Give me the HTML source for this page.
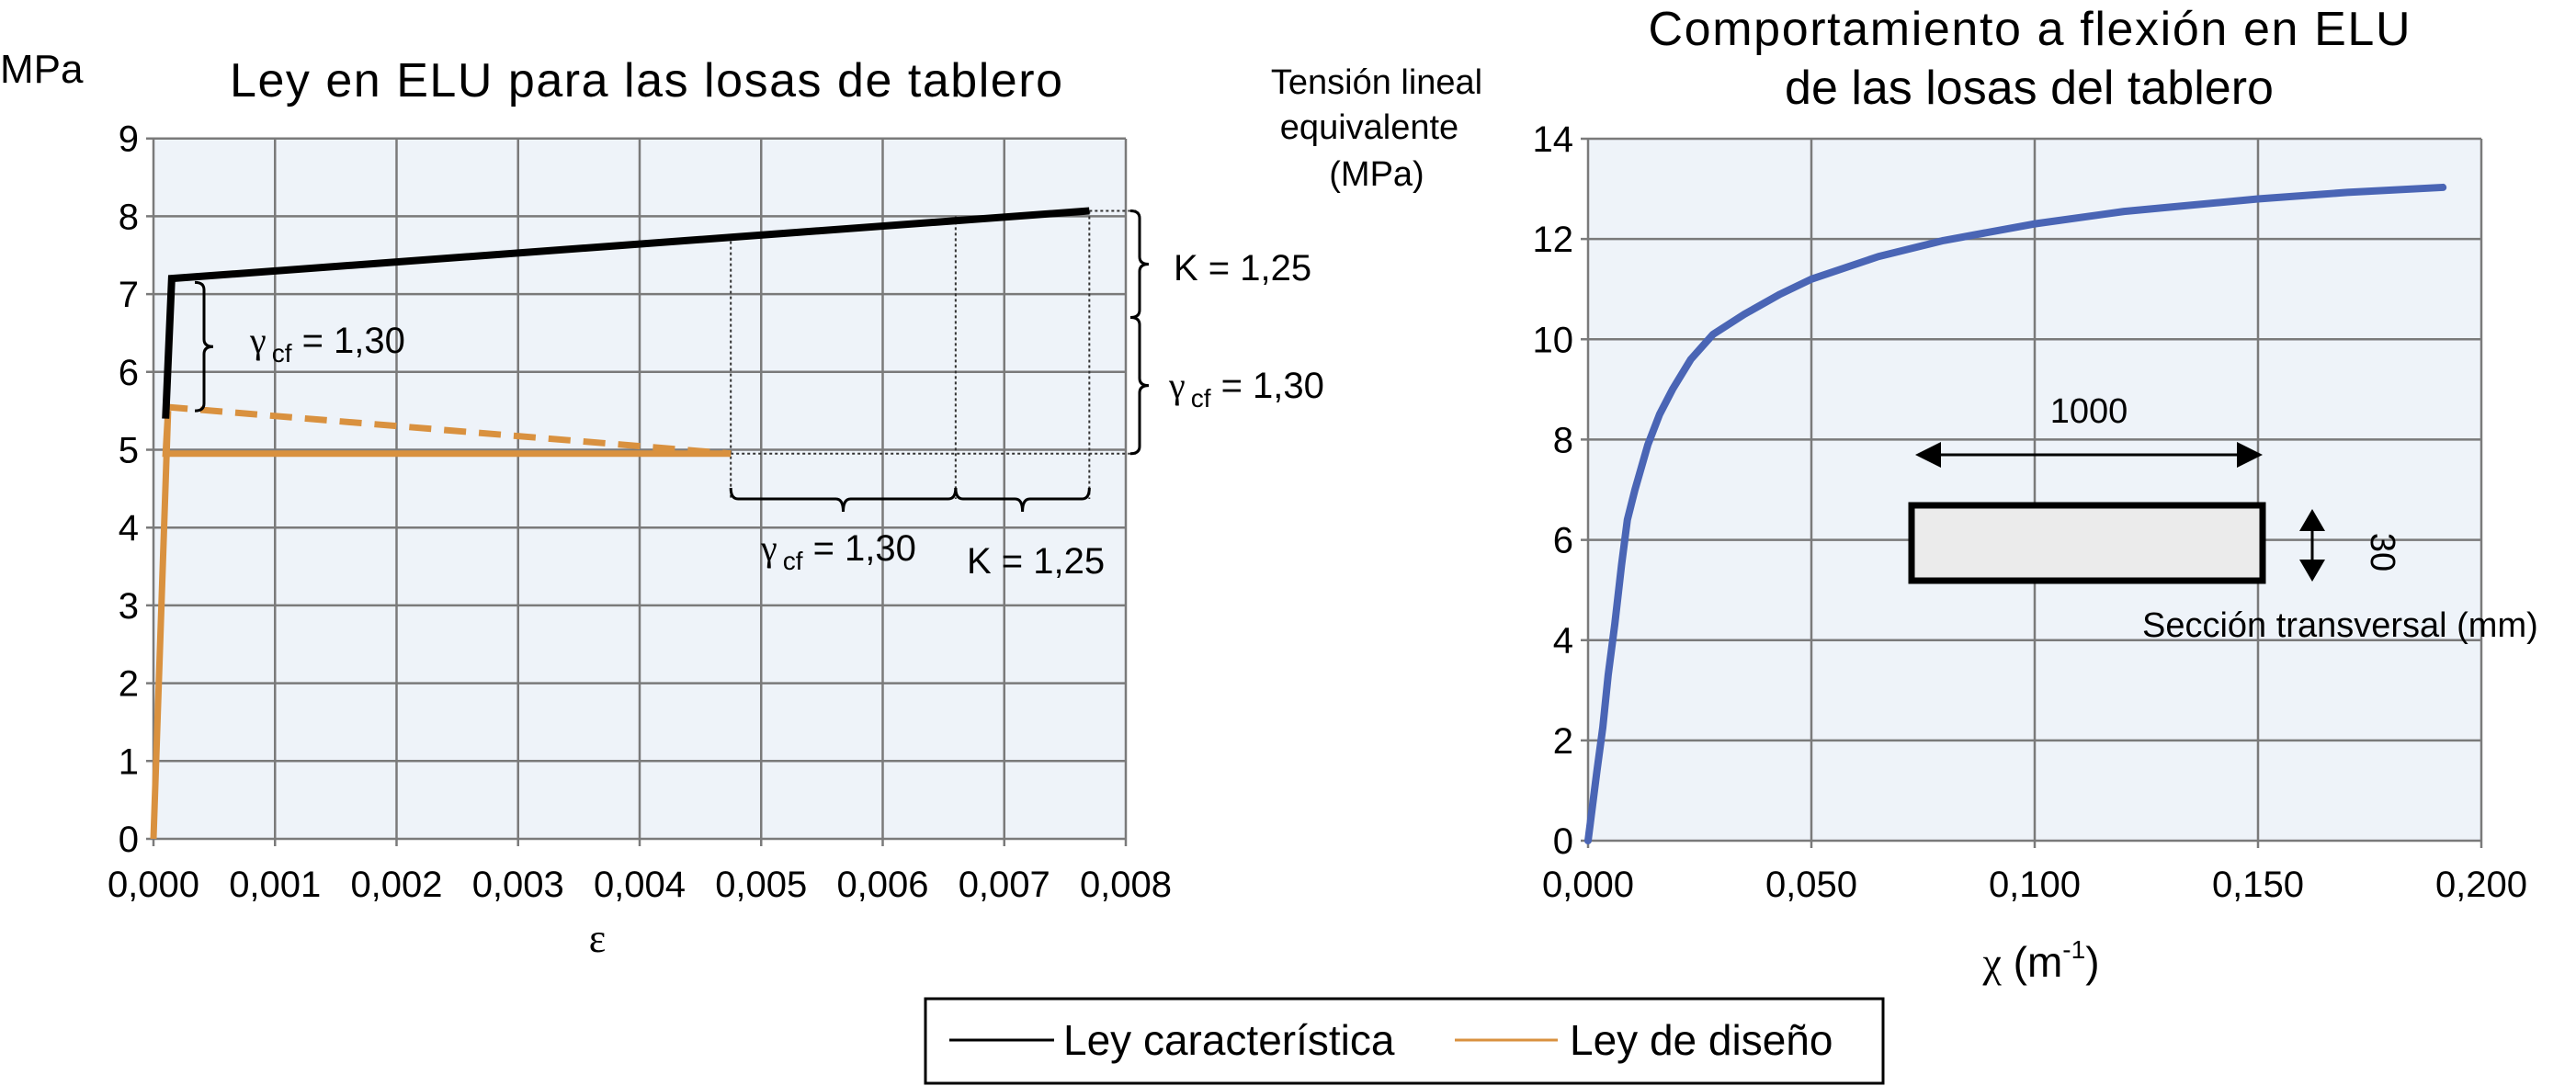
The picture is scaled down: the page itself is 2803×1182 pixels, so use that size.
<!DOCTYPE html>
<html><head><meta charset="utf-8"><style>
html,body{margin:0;padding:0;background:#fff;}
svg{display:block;font-family:"Liberation Sans",sans-serif;}
</style></head><body>
<svg id="s" width="2803" height="1182" viewBox="0 0 2803 1182">
<text x="0" y="90" font-size="44">MPa</text>
<text x="703" y="105" font-size="52" text-anchor="middle" textLength="906">Ley en ELU para las losas de tablero</text>
<text x="650" y="1036" font-size="44" font-family="Liberation Serif" text-anchor="middle">ε</text>
<text x="2208" y="49" font-size="52" text-anchor="middle" textLength="829">Comportamiento a flexión en ELU</text>
<text x="2208" y="113" font-size="52" text-anchor="middle">de las losas del tablero</text>
<g font-size="38" text-anchor="middle">
<text x="1498" y="102">Tensión lineal</text><text x="1490" y="151">equivalente</text><text x="1498" y="202">(MPa)</text></g>
<text x="2221" y="1063" font-size="46" text-anchor="middle"><tspan font-family="Liberation Serif">χ</tspan> (m<tspan font-size="28" dy="-20">-1</tspan><tspan dy="20">)</tspan></text>
<g id="L"></g><g id="R"></g>
<g>
<rect x="1007" y="1087" width="1042" height="92" fill="#fff" stroke="#000" stroke-width="3"/>
<line x1="1033" y1="1132" x2="1147" y2="1132" stroke="#000" stroke-width="3"/>
<text x="1157" y="1148" font-size="46">Ley característica</text>
<line x1="1583" y1="1132" x2="1695" y2="1132" stroke="#d9913f" stroke-width="3"/>
<text x="1708" y="1148" font-size="46">Ley de diseño</text>
</g>
</svg>
<script>
// Left chart data
const leftXTicks = [0,0.001,0.002,0.003,0.004,0.005,0.006,0.007,0.008];
const leftXLabels = ["0,000","0,001","0,002","0,003","0,004","0,005","0,006","0,007","0,008"];
const leftYTicks = [0,1,2,3,4,5,6,7,8,9];
const charStrain = [0.0001,0.00015,0.0077];
const charStress = [5.4,7.2,8.07];
const designStrain = [0,0.00012,0.0001,0.00475];
const designStress = [0,5.5,4.95,4.95];
const dashStrain = [0.0001,0.00475];
const dashStress = [5.55,4.95];
// Right chart data
const rightXTicks = [0,0.05,0.1,0.15,0.2];
const rightXLabels = ["0,000","0,050","0,100","0,150","0,200"];
const rightYTicks = [0,2,4,6,8,10,12,14];
const curvature = [0,0.002,0.0033,0.0045,0.006,0.0075,0.0088,0.0105,0.0134,0.016,0.0189,0.023,0.028,0.035,0.043,0.05,0.065,0.0796,0.0998,0.12,0.15,0.17,0.1914];
const moment = [0,1.4,2.26,3.3,4.33,5.5,6.4,7.0,7.9,8.5,9.0,9.6,10.1,10.5,10.9,11.2,11.65,11.97,12.3,12.55,12.8,12.93,13.03];

const NS="http://www.w3.org/2000/svg";
function mk(p,tag,at){const e=document.createElementNS(NS,tag);for(const k in at)e.setAttribute(k,at[k]);p.appendChild(e);return e;}
const L=document.getElementById('L'), R=document.getElementById('R');
const lx=v=>167+v/0.008*1058, ly=v=>913-v*84.7;
const rx=v=>1728+v/0.2*972, ry=v=>915-v/14*764;

function axes(g,xs,ys,xt,xl,yt,x0,x1,y0,y1,name){
  const bg=mk(g,'rect',{x:x0,y:y1,width:x1-x0,height:y0-y1,fill:'#eef3f9'});
  
  
  xt.forEach((t,i)=>{const l=mk(g,'line',{x1:xs(t),x2:xs(t),y1:y1,y2:y0+8,stroke:'#7a7a7a','stroke-width':2.5});
    
    
    const tx=mk(g,'text',{x:xs(t),y:976,'font-size':40,'text-anchor':'middle'});tx.textContent=xl[i];
    
    });
  yt.forEach(t=>{const l=mk(g,'line',{x1:x0-8,x2:x1,y1:ys(t),y2:ys(t),stroke:'#7a7a7a','stroke-width':2.5});
    
    
    const tx=mk(g,'text',{x:x0-16,y:ys(t)+14,'font-size':40,'text-anchor':'end'});tx.textContent=String(t);
    
    });
}
axes(L,lx,ly,leftXTicks,leftXLabels,leftYTicks,167,1225,913,151,'left');
axes(R,rx,ry,rightXTicks,rightXLabels,rightYTicks,1728,2700,915,151,'right');

function pts(xs,ys,a,b){return a.map((v,i)=>xs(v)+','+ys(b[i])).join(' ');}
const dot={stroke:'#333','stroke-width':2,'stroke-dasharray':'3,3',fill:'none'};
[[0.00475,7.75],[0.0066,8.0],[0.0077,8.07]].forEach(([x,y])=>{const l=mk(L,'line',Object.assign({x1:lx(x),x2:lx(x),y1:ly(y),y2:543},dot));
  
  });
let g1=mk(L,'line',Object.assign({x1:lx(0.00475),x2:1237,y1:ly(4.95),y2:ly(4.95)},dot));


let g2=mk(L,'line',Object.assign({x1:lx(0.0077),x2:1237,y1:ly(8.07),y2:ly(8.07)},dot));



let ds=mk(L,'polyline',{points:pts(lx,ly,dashStrain,dashStress),fill:'none',stroke:'#d9913f','stroke-width':7,'stroke-dasharray':'24,14'});


let dl=mk(L,'polyline',{points:pts(lx,ly,designStrain,designStress),fill:'none',stroke:'#d9913f','stroke-width':7});


let cl=mk(L,'polyline',{points:pts(lx,ly,charStrain,charStress),fill:'none',stroke:'#000','stroke-width':8});



function braceV(x,ya,yb,dir){
  const m=(ya+yb)/2,w=10*dir;
  return `M${x-w},${ya} Q${x},${ya} ${x},${ya+8} L${x},${m-8} Q${x},${m} ${x+w},${m} Q${x},${m} ${x},${m+8} L${x},${yb-8} Q${x},${yb} ${x-w},${yb}`;}
function braceH(y,xa,xb){
  const m=(xa+xb)/2;
  return `M${xa},${y-12} Q${xa},${y} ${xa+8},${y} L${m-8},${y} Q${m},${y} ${m},${y+14} Q${m},${y} ${m+8},${y} L${xb-8},${y} Q${xb},${y} ${xb},${y-12}`;}
const bs={fill:'none',stroke:'#000','stroke-width':3};
[[braceV(1240,ly(8.07),ly(6.7),1),'brace-k-right'],[braceV(1240,ly(6.7),ly(4.95),1),'brace-gamma-right'],
 [braceV(222,ly(7.15),ly(5.5),1),'brace-gamma-left'],
 [braceH(543,lx(0.00475),lx(0.0066)),'brace-gamma-bottom'],[braceH(543,lx(0.0066),lx(0.0077)),'brace-k-bottom']].forEach(([d,n])=>{
  const p=mk(L,'path',Object.assign({d:d},bs));
  
  });
function gam(x,y,n){const t=mk(L,'text',{x:x,y:y,'font-size':40});
  t.innerHTML='<tspan font-family="Liberation Serif">γ</tspan><tspan font-size="28" dx="6" dy="10">cf</tspan><tspan dy="-10"> = 1,30</tspan>';
  
  }
gam(272,384,'gamma-label-left');gam(1272,433,'gamma-label-right');gam(828,610,'gamma-label-bottom');
let k1=mk(L,'text',{x:1277,y:305,'font-size':40});k1.textContent='K = 1,25';


let k2=mk(L,'text',{x:1052,y:624,'font-size':40});k2.textContent='K = 1,25';



let rc=mk(R,'polyline',{points:pts(rx,ry,curvature,moment),fill:'none',stroke:'#4a65b5','stroke-width':8,'stroke-linejoin':'round','stroke-linecap':'round'});


let sr=mk(R,'rect',{x:2080,y:550,width:382,height:82,fill:'#ebebeb',stroke:'#000','stroke-width':7});


let ha=mk(R,'path',{d:'M2084,495 L2112,481 L2112,509 Z M2462,495 L2434,481 L2434,509 Z',fill:'#000'});


let hl=mk(R,'line',{x1:2100,x2:2446,y1:495,y2:495,stroke:'#000','stroke-width':3});


let va=mk(R,'path',{d:'M2516,554 L2502,578 L2530,578 Z M2516,633 L2502,609 L2530,609 Z',fill:'#000'});


let vl=mk(R,'line',{x1:2516,x2:2516,y1:570,y2:617,stroke:'#000','stroke-width':3});


let t1=mk(R,'text',{x:2273,y:460,'font-size':38,'text-anchor':'middle'});t1.textContent='1000';


let t2=mk(R,'text',{x:0,y:0,'font-size':38,'text-anchor':'middle',transform:'translate(2580,601) rotate(90)'});t2.textContent='30';


let t3=mk(R,'text',{x:2331,y:693,'font-size':38});t3.textContent='Sección transversal (mm)';


</script>
</body></html>
